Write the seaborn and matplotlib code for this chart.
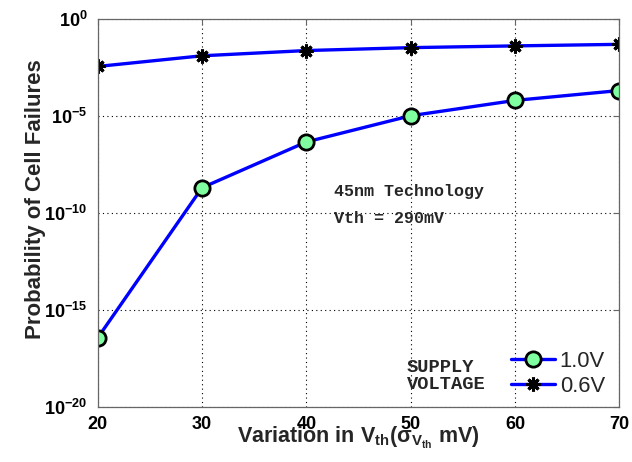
import matplotlib.pyplot as plt
import seaborn as sns
import numpy as np

# values (log10 of failure probability)
variation = [20, 30, 40, 50, 60, 70]
log_p_1v0 = [-16.42, -8.68, -6.32, -4.97, -4.18, -3.67]
log_p_0v6 = [-2.43, -1.88, -1.61, -1.46, -1.37, -1.29]
series_labels = ['1.0V', '0.6V']
yticks = [1e-20, 1e-15, 1e-10, 1e-5, 1e0]

sns.set_style('white')
plt.rcParams['font.family'] = ['Liberation Sans', 'DejaVu Sans']
plt.rcParams['mathtext.fontset'] = 'custom'
plt.rcParams['mathtext.rm'] = 'Liberation Sans:bold'
plt.rcParams['mathtext.it'] = 'Liberation Sans:bold'
plt.rcParams['mathtext.bf'] = 'Liberation Sans:bold'

fig = plt.figure(figsize=(6.32, 4.62), dpi=100)
ax = fig.add_axes([0.1546, 0.1184, 0.8256, 0.8398])

p_1v0 = 10.0 ** np.array(log_p_1v0)
p_0v6 = 10.0 ** np.array(log_p_0v6)

sns.lineplot(x=variation, y=p_1v0, ax=ax, color='#0000ff', lw=2.4,
             marker='o', markersize=11, markerfacecolor='#7fff9f',
             markeredgecolor='black', markeredgewidth=2, label=series_labels[0])
sns.lineplot(x=variation, y=p_0v6, ax=ax, color='#0000ff', lw=2.4,
             marker=(8, 2, 0), markersize=10, markerfacecolor='black',
             markeredgecolor='black', markeredgewidth=2.2, label=series_labels[1])

ax.set_yscale('log')
ax.set_xlim(20, 70)
ax.set_ylim(1e-20, 1e0)
ax.set_xticks(variation)
ax.set_yticks(yticks)
ax.set_yticklabels([r'$10^{%d}$' % int(np.log10(t)) for t in yticks])
ax.minorticks_off()
ax.grid(True, color='black', linestyle=(0, (1, 3)), lw=0.8)
for s in ax.spines.values():
    s.set_color('#666666')
    s.set_linewidth(0.9)
ax.tick_params(axis='both', labelsize=13, direction='in', length=4, colors='#666666',
               labelcolor='black', top=True, right=True)
ax.tick_params(axis='x', pad=6)
ax.tick_params(axis='y', pad=7.5)
for lab in ax.get_xticklabels():
    lab.set_fontweight('bold')

ax.set_ylabel('Probability of Cell Failures', fontsize=16, fontweight='bold')
ax.yaxis.set_label_coords(-0.100, 0.536)
ax.set_xlabel(r'Variation in V$_{th}$($\sigma_{V_{th}}$ mV)', fontsize=15.5,
              fontweight='bold')
ax.xaxis.set_label_coords(0.5, -0.045)

mono = ['Liberation Mono', 'DejaVu Sans Mono']
ax.text(42.6, 10 ** -8.89, '45nm Technology', family=mono, fontweight='bold',
        fontsize=12, va='center')
ax.text(42.6, 10 ** -10.26, 'Vth = 290mV', family=mono, fontweight='bold',
        fontsize=12, va='center')
ax.text(49.6, 10 ** -17.94, 'SUPPLY', family=mono, fontweight='bold',
        fontsize=13.5, va='center')
ax.text(49.6, 10 ** -18.85, 'VOLTAGE', family=mono, fontweight='bold',
        fontsize=13.5, va='center')

ax.legend(loc='lower right', bbox_to_anchor=(0.992, 0.0), frameon=False,
          fontsize=15.8, handlelength=2.0, handletextpad=0.23,
          borderpad=0.3, borderaxespad=0.17, labelspacing=0.2)

fig.savefig('out.png', dpi=100)
